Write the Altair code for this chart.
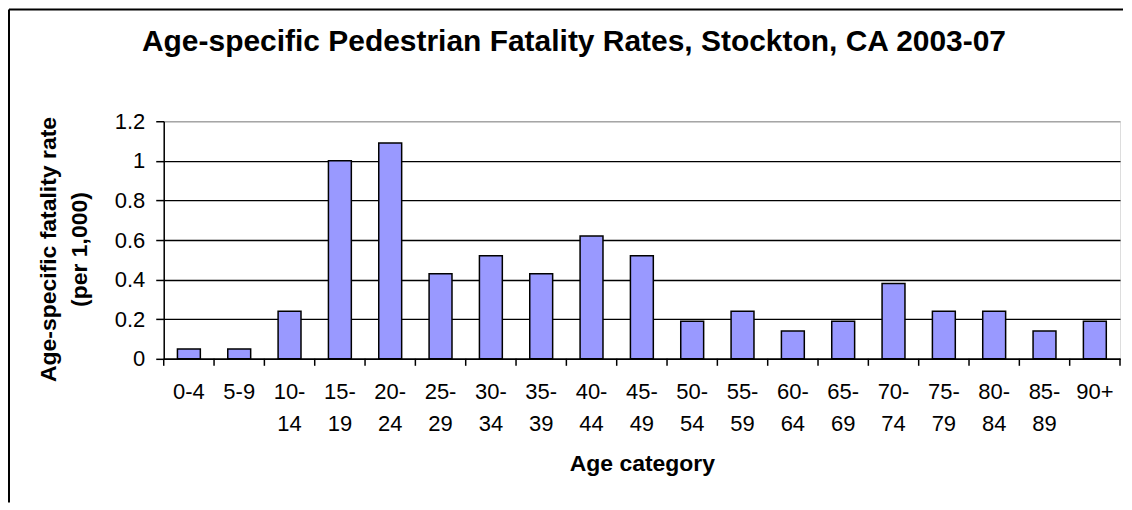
import altair as alt
import pandas as pd

ages = ["0-4", "5-9", "10-14", "15-19", "20-24", "25-29", "30-34", "35-39",
        "40-44", "45-49", "50-54", "55-59", "60-64", "65-69", "70-74", "75-79",
        "80-84", "85-89", "90+"]
rates = [0.05, 0.05, 0.24, 1.00, 1.09, 0.43, 0.52, 0.43, 0.62, 0.52,
         0.19, 0.24, 0.14, 0.19, 0.38, 0.24, 0.24, 0.14, 0.19]
y_ticks = [0, 0.2, 0.4, 0.6, 0.8, 1.0, 1.2]

df = pd.DataFrame({"age": ages, "rate": rates})

W, H = 958, 238
STEP = W / len(ages)
FONT = "Liberation Sans"

x_enc = alt.X(
    "age:N", sort=ages,
    scale=alt.Scale(paddingInner=0.545, paddingOuter=0.2725),
    axis=alt.Axis(
        title="Age category", titleFontSize=23, titleFontWeight="bold",
        titleFont=FONT, titleColor="black", titlePadding=18,
        labelFont=FONT, labelFontSize=22, labelColor="black", labelAngle=0,
        labelPadding=23, labelLineHeight=32,
        labelExpr="length(datum.label) > 3 ? [substring(datum.label, 0, 3), substring(datum.label, 3)] : datum.label",
        ticks=False, domainColor="black", domainWidth=1.5, grid=False,
    ),
)

y_enc = alt.Y(
    "rate:Q",
    scale=alt.Scale(domain=[0, 1.2], nice=False),
    axis=alt.Axis(
        title=["Age-specific fatality rate", "(per 1,000)"],
        titleFontSize=23, titleFontWeight="bold", titleFont=FONT,
        titleColor="black", titleLineHeight=31, titleX=-103, titleY=H / 2 + 9,
        values=y_ticks, format="~g",
        labelFont=FONT, labelFontSize=22, labelColor="black", labelPadding=11,
        tickSize=8, tickColor="black", tickWidth=1.5,
        domainColor="black", domainWidth=1.5,
        grid=True, gridWidth=1.4,
        gridColor={"condition": {"test": "datum.value >= 1.19", "value": "#a6a6a6"}, "value": "black"},
    ),
)

bars = alt.Chart(df).mark_bar(
    color="#9999FF", stroke="black", strokeWidth=1.5
).encode(x=x_enc, y=y_enc)

ticks = alt.Chart(df).mark_rule(
    color="black", strokeWidth=1.5, xOffset=-STEP / 2
).encode(x=x_enc, y=alt.value(H), y2=alt.value(H + 7))

last_tick = alt.Chart(df).transform_filter(
    alt.datum.age == ages[-1]
).mark_rule(
    color="black", strokeWidth=1.5, xOffset=STEP / 2
).encode(x=x_enc, y=alt.value(H), y2=alt.value(H + 7))

frame_df = pd.DataFrame({"k": [0]})
left_border = alt.Chart(frame_df).mark_rule(color="black", strokeWidth=2).encode(
    x=alt.value(-155), y=alt.value(-112), y2=alt.value(382)
)
top_border = alt.Chart(frame_df).mark_rule(color="black", strokeWidth=2).encode(
    x=alt.value(-155), x2=alt.value(W + 3), y=alt.value(-112)
)

chart = alt.layer(bars, ticks, last_tick, left_border, top_border).properties(
    width=W, height=H, padding=0,
    title=alt.TitleParams(
        "Age-specific Pedestrian Fatality Rates, Stockton, CA 2003-07",
        font=FONT, fontSize=30, fontWeight="bold", color="black",
        anchor="middle", frame="bounds", baseline="alphabetic", offset=-73, dx=8,
    ),
).configure_view(stroke="#a6a6a6", strokeWidth=1.5).configure(background="white")

chart.save("out.html", embed_options={"renderer": "svg", "actions": False})
